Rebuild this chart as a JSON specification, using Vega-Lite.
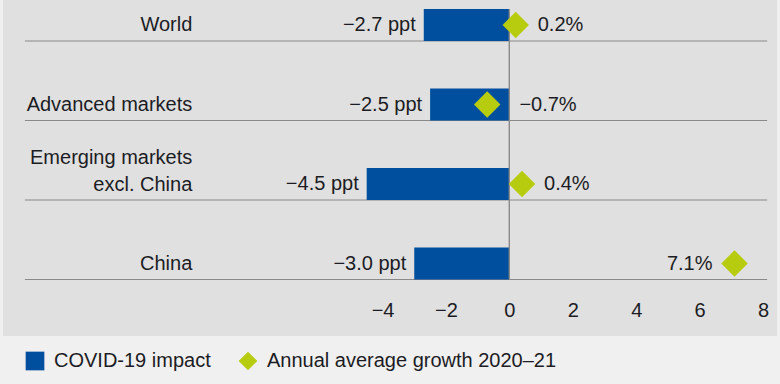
{
  "$schema": "https://vega.github.io/schema/vega-lite/v6.json",
  "autosize": {"type": "none"},
  "width": 774,
  "height": 336,
  "padding": {"left": 3, "top": 0, "right": 3, "bottom": 48},
  "background": "#f0f0f0",
  "config": {
    "view": {"fill": "#e0e0e0", "stroke": null},
    "font": "Liberation Sans",
    "text": {"font": "Liberation Sans", "fontSize": 20, "color": "#1c1c24"}
  },
  "data": {
    "values": [
      {"region": "World", "label": ["World"], "impact": -2.7, "growth": 0.2, "impactLabel": "−2.7 ppt", "growthLabel": "0.2%"},
      {"region": "Advanced markets", "label": ["Advanced markets"], "impact": -2.5, "growth": -0.7, "impactLabel": "−2.5 ppt", "growthLabel": "−0.7%"},
      {"region": "Emerging markets excl. China", "label": ["Emerging markets", "excl. China"], "impact": -4.5, "growth": 0.4, "impactLabel": "−4.5 ppt", "growthLabel": "0.4%"},
      {"region": "China", "label": ["China"], "impact": -3.0, "growth": 7.1, "impactLabel": "−3.0 ppt", "growthLabel": "7.1%"}
    ]
  },
  "encoding": {
    "y": {
      "field": "region",
      "type": "nominal",
      "sort": null,
      "axis": null,
      "scale": {"type": "band", "domain": ["World", "Advanced markets", "Emerging markets excl. China", "China"], "range": [-14.75, 303.25], "paddingInner": 0, "paddingOuter": 0}
    }
  },
  "layer": [
    {
      "mark": {"type": "rule", "color": "#8a8a8a", "strokeWidth": 1, "yOffset": 16},
      "encoding": {
        "x": {"datum": -15.28, "type": "quantitative"},
        "x2": {"datum": 8.13}
      }
    },
    {
      "mark": {"type": "bar", "height": 32},
      "encoding": {
        "x": {
          "field": "impact",
          "type": "quantitative",
          "scale": {"domain": [-15.97, 8.44], "nice": false, "zero": false},
          "axis": {
            "values": [-4, -2, 0, 2, 4, 6, 8],
            "title": null,
            "grid": false,
            "domain": false,
            "ticks": false,
            "offset": -56,
            "labelPadding": 20,
            "labelFontSize": 20,
            "labelFont": "Liberation Sans",
            "labelColor": "#1c1c24",
            "format": "d"
          }
        },
        "x2": {"datum": 0},
        "color": {
          "datum": "COVID-19 impact",
          "type": "nominal",
          "scale": {"domain": ["COVID-19 impact", "Annual average growth 2020–21"], "range": ["#004f9f", "#b7cc0e"]},
          "legend": {
            "title": null,
            "orient": "none",
            "direction": "horizontal",
            "legendX": 22,
            "legendY": 351,
            "labelFontSize": 20,
            "labelFont": "Liberation Sans",
            "labelColor": "#1c1c24",
            "labelLimit": 500,
            "symbolSize": 350,
            "labelOffset": 9,
            "columnPadding": 27,
            "symbolStrokeWidth": 0,
            "encode": {
              "symbols": {
                "update": {
                  "shape": {"signal": "datum.value === 'COVID-19 impact' ? 'square' : 'diamond'"},
                  "fill": {"scale": "color", "field": "value"},
                  "fillOpacity": {"value": 1},
                  "strokeWidth": {"value": 0}
                }
              }
            }
          }
        }
      }
    },
    {
      "mark": {"type": "rule", "color": "#8a8a8a", "strokeWidth": 1, "yOffset": -16, "y2Offset": 16},
      "encoding": {
        "x": {"datum": 0, "type": "quantitative"},
        "y": {"datum": "World"},
        "y2": {"datum": "China"}
      }
    },
    {
      "transform": [{"filter": "length(datum.label) == 1"}],
      "mark": {"type": "text", "align": "right", "baseline": "middle"},
      "encoding": {
        "x": {"datum": -10, "type": "quantitative"},
        "text": {"field": "label"}
      }
    },
    {
      "transform": [{"filter": "length(datum.label) > 1"}],
      "mark": {"type": "text", "align": "right", "baseline": "middle", "dy": -26, "lineHeight": 27},
      "encoding": {
        "x": {"datum": -10, "type": "quantitative"},
        "text": {"field": "label"}
      }
    },
    {
      "mark": {"type": "text", "align": "right", "baseline": "middle", "dx": -8},
      "encoding": {
        "x": {"field": "impact", "type": "quantitative"},
        "text": {"field": "impactLabel"}
      }
    },
    {
      "mark": {"type": "point", "shape": "diamond", "filled": true, "size": 700, "opacity": 1, "strokeWidth": 0},
      "encoding": {
        "x": {"field": "growth", "type": "quantitative"},
        "color": {"datum": "Annual average growth 2020–21", "type": "nominal"}
      }
    },
    {
      "transform": [{"filter": "datum.growth >= 0 && datum.growth < 5"}],
      "mark": {"type": "text", "align": "left", "baseline": "middle", "dx": 22},
      "encoding": {
        "x": {"field": "growth", "type": "quantitative"},
        "text": {"field": "growthLabel"}
      }
    },
    {
      "transform": [{"filter": "datum.growth < 0"}],
      "mark": {"type": "text", "align": "left", "baseline": "middle", "dx": 10},
      "encoding": {
        "x": {"datum": 0, "type": "quantitative"},
        "text": {"field": "growthLabel"}
      }
    },
    {
      "transform": [{"filter": "datum.growth >= 5"}],
      "mark": {"type": "text", "align": "right", "baseline": "middle", "dx": -22},
      "encoding": {
        "x": {"field": "growth", "type": "quantitative"},
        "text": {"field": "growthLabel"}
      }
    }
  ]
}
